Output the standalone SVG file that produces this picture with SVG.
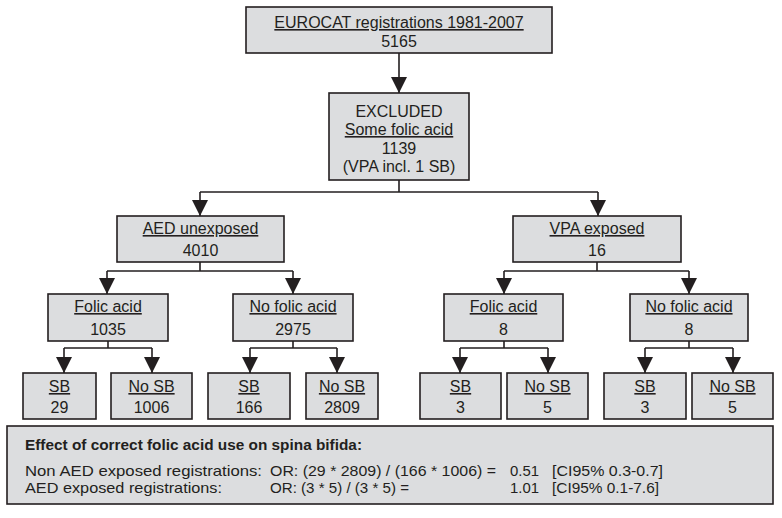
<svg xmlns="http://www.w3.org/2000/svg" width="782" height="518" viewBox="0 0 782 518">
<defs>
<style>
.box{fill:#dcdddf;stroke:#231f20;stroke-width:1.6}
text{font-family:"Liberation Sans",Arial,sans-serif;font-size:16px;fill:#231f20;text-anchor:middle}
.u{text-decoration:underline}
.l{text-anchor:start;font-size:15px}
.b{font-weight:bold}
.c{fill:none;stroke:#231f20;stroke-width:1.6}
</style>
<marker id="ah" markerUnits="userSpaceOnUse" markerWidth="16" markerHeight="16" refX="14" refY="7" orient="auto" viewBox="0 0 14 14">
<path d="M0,0 L14,7 L0,14 z" fill="#231f20"/>
</marker>
</defs>
<rect width="782" height="518" fill="#ffffff"/>
<g id="connectors">
<path class="c" d="M399,53 V93" marker-end="url(#ah)"/>
<path class="c" d="M399,180 V192 M200,192 H598"/>
<path class="c" d="M200,192 V216" marker-end="url(#ah)"/>
<path class="c" d="M598,192 V216" marker-end="url(#ah)"/>
<path class="c" d="M200,262 V271 M107,271 H293"/>
<path class="c" d="M107,271 V294" marker-end="url(#ah)"/>
<path class="c" d="M293,271 V294" marker-end="url(#ah)"/>
<path class="c" d="M597,262 V271 M504,271 H689"/>
<path class="c" d="M504,271 V294" marker-end="url(#ah)"/>
<path class="c" d="M689,271 V294" marker-end="url(#ah)"/>
<path class="c" d="M108,341 V348 M64,348 H152"/>
<path class="c" d="M64,348 V373" marker-end="url(#ah)"/>
<path class="c" d="M152,348 V373" marker-end="url(#ah)"/>
<path class="c" d="M293,341 V348 M250,348 H337"/>
<path class="c" d="M250,348 V373" marker-end="url(#ah)"/>
<path class="c" d="M337,348 V373" marker-end="url(#ah)"/>
<path class="c" d="M504,341 V348 M460,348 H548"/>
<path class="c" d="M460,348 V373" marker-end="url(#ah)"/>
<path class="c" d="M548,348 V373" marker-end="url(#ah)"/>
<path class="c" d="M689,341 V348 M645,348 H733"/>
<path class="c" d="M645,348 V373" marker-end="url(#ah)"/>
<path class="c" d="M733,348 V373" marker-end="url(#ah)"/>
</g>
<g id="eurocat"><rect class="box" x="246" y="7" width="306" height="46"/><text x="399" y="28" class="u">EUROCAT registrations 1981-2007</text><text x="399" y="47">5165</text></g>
<g id="excluded"><rect class="box" x="329" y="93" width="140" height="87"/><text x="399" y="117">EXCLUDED</text><text x="399" y="135" class="u">Some folic acid</text><text x="399" y="154">1139</text><text x="399" y="172">(VPA incl. 1 SB)</text></g>
<g id="aed"><rect class="box" x="117" y="216" width="167" height="46"/><text x="200.5" y="234" class="u">AED unexposed</text><text x="200.5" y="256">4010</text></g>
<g id="vpa"><rect class="box" x="513" y="216" width="168" height="46"/><text x="597" y="234" class="u">VPA exposed</text><text x="597" y="256">16</text></g>
<g id="aed-folic"><rect class="box" x="48" y="294" width="120" height="47"/><text x="108" y="312" class="u">Folic acid</text><text x="108" y="335">1035</text></g>
<g id="aed-nofolic"><rect class="box" x="233" y="294" width="120" height="47"/><text x="293" y="312" class="u">No folic acid</text><text x="293" y="335">2975</text></g>
<g id="vpa-folic"><rect class="box" x="444" y="294" width="119" height="47"/><text x="503.5" y="312" class="u">Folic acid</text><text x="503.5" y="335">8</text></g>
<g id="vpa-nofolic"><rect class="box" x="630" y="294" width="118" height="47"/><text x="689" y="312" class="u">No folic acid</text><text x="689" y="335">8</text></g>
<g id="sb1"><rect class="box" x="23" y="373" width="73" height="46"/><text x="59.5" y="392" class="u">SB</text><text x="59.5" y="413">29</text></g>
<g id="nosb1"><rect class="box" x="111" y="373" width="81" height="46"/><text x="151.5" y="392" class="u">No SB</text><text x="151.5" y="413">1006</text></g>
<g id="sb2"><rect class="box" x="208" y="373" width="82" height="46"/><text x="249" y="392" class="u">SB</text><text x="249" y="413">166</text></g>
<g id="nosb2"><rect class="box" x="306" y="373" width="72" height="46"/><text x="342" y="392" class="u">No SB</text><text x="342" y="413">2809</text></g>
<g id="sb3"><rect class="box" x="420" y="373" width="81" height="46"/><text x="460.5" y="392" class="u">SB</text><text x="460.5" y="413">3</text></g>
<g id="nosb3"><rect class="box" x="507" y="373" width="81" height="46"/><text x="547.5" y="392" class="u">No SB</text><text x="547.5" y="413">5</text></g>
<g id="sb4"><rect class="box" x="604" y="373" width="82" height="46"/><text x="645" y="392" class="u">SB</text><text x="645" y="413">3</text></g>
<g id="nosb4"><rect class="box" x="692" y="373" width="81" height="46"/><text x="732.5" y="392" class="u">No SB</text><text x="732.5" y="413">5</text></g>
<g id="effect"><rect class="box" x="7" y="426" width="766" height="78"/>
<text x="25" y="450" class="l b" textLength="337" lengthAdjust="spacingAndGlyphs">Effect of correct folic acid use on spina bifida:</text>
<text x="25" y="476" class="l" textLength="237" lengthAdjust="spacingAndGlyphs">Non AED exposed registrations:</text>
<text x="270" y="476" class="l" textLength="226" lengthAdjust="spacingAndGlyphs">OR: (29 * 2809) / (166 * 1006) =</text>
<text x="510" y="476" class="l" textLength="29" lengthAdjust="spacingAndGlyphs">0.51</text>
<text x="552" y="476" class="l" textLength="111" lengthAdjust="spacingAndGlyphs">[CI95% 0.3-0.7]</text>
<text x="25" y="493" class="l" textLength="197" lengthAdjust="spacingAndGlyphs">AED exposed registrations:</text>
<text x="270" y="493" class="l" textLength="139" lengthAdjust="spacingAndGlyphs">OR: (3 * 5) / (3 * 5) =</text>
<text x="510" y="493" class="l" textLength="29" lengthAdjust="spacingAndGlyphs">1.01</text>
<text x="552" y="493" class="l" textLength="107" lengthAdjust="spacingAndGlyphs">[CI95% 0.1-7.6]</text>
</g>
</svg>
